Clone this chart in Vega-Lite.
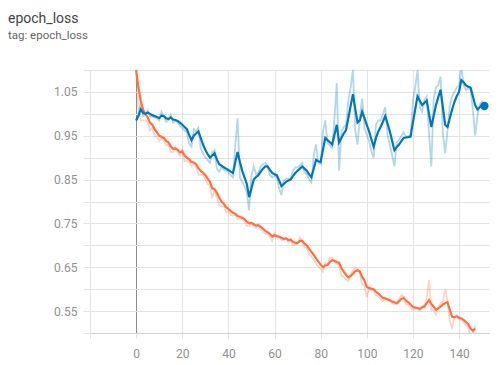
{
  "$schema": "https://vega.github.io/schema/vega-lite/v6.json",
  "width": 399,
  "height": 263,
  "autosize": "none",
  "padding": {"left": 90, "top": 70, "right": 10, "bottom": 32},
  "background": "white",
  "title": {
    "text": "epoch_loss",
    "subtitle": "tag: epoch_loss",
    "anchor": "start",
    "frame": "group",
    "dx": -82,
    "offset": 28,
    "font": "Roboto",
    "fontSize": 14,
    "fontWeight": "normal",
    "color": "#444444",
    "subtitleFont": "Roboto",
    "subtitleFontSize": 11.5,
    "subtitleColor": "#666666",
    "subtitlePadding": 4
  },
  "config": {
    "view": {"stroke": null},
    "axis": {
      "labelFont": "Roboto",
      "labelFontSize": 12,
      "labelColor": "#909090",
      "gridColor": "#e3e3e3",
      "tickColor": "#e3e3e3",
      "domainColor": "#d0d0d0",
      "title": null
    }
  },
  "data": {
    "values": [
      {"step":0,"t":1.100,"ts":1.100,"v":0.985,"vs":0.985},
      {"step":1,"t":1.010,"ts":1.060,"v":1.000,"vs":0.995},
      {"step":2,"t":0.985,"ts":1.030,"v":1.025,"vs":1.010},
      {"step":3,"t":0.985,"ts":1.010,"v":0.995,"vs":1.002},
      {"step":4,"t":0.985,"ts":1.000,"v":0.998,"vs":1.000},
      {"step":5,"t":0.980,"ts":0.992,"v":1.008,"vs":1.003},
      {"step":6,"t":0.962,"ts":0.980,"v":0.995,"vs":1.000},
      {"step":7,"t":0.968,"ts":0.975,"v":0.993,"vs":0.997},
      {"step":8,"t":0.950,"ts":0.965,"v":0.992,"vs":0.995},
      {"step":9,"t":0.948,"ts":0.958,"v":0.990,"vs":0.993},
      {"step":10,"t":0.938,"ts":0.950,"v":0.985,"vs":0.990},
      {"step":11,"t":0.945,"ts":0.948,"v":1.005,"vs":0.996},
      {"step":12,"t":0.940,"ts":0.945,"v":0.994,"vs":0.995},
      {"step":13,"t":0.928,"ts":0.938,"v":0.982,"vs":0.990},
      {"step":14,"t":0.930,"ts":0.935,"v":0.985,"vs":0.988},
      {"step":15,"t":0.912,"ts":0.926,"v":0.998,"vs":0.992},
      {"step":16,"t":0.912,"ts":0.920,"v":0.980,"vs":0.987},
      {"step":17,"t":0.924,"ts":0.921,"v":0.985,"vs":0.986},
      {"step":18,"t":0.912,"ts":0.918,"v":0.980,"vs":0.984},
      {"step":19,"t":0.904,"ts":0.912,"v":0.972,"vs":0.980},
      {"step":20,"t":0.918,"ts":0.915,"v":0.968,"vs":0.975},
      {"step":21,"t":0.892,"ts":0.905,"v":0.962,"vs":0.970},
      {"step":22,"t":0.893,"ts":0.900,"v":0.958,"vs":0.965},
      {"step":23,"t":0.890,"ts":0.896,"v":0.932,"vs":0.952},
      {"step":24,"t":0.880,"ts":0.890,"v":0.925,"vs":0.940},
      {"step":25,"t":0.887,"ts":0.889,"v":0.965,"vs":0.950},
      {"step":26,"t":0.880,"ts":0.885,"v":0.960,"vs":0.955},
      {"step":27,"t":0.862,"ts":0.876,"v":0.968,"vs":0.960},
      {"step":28,"t":0.860,"ts":0.870,"v":0.922,"vs":0.945},
      {"step":29,"t":0.860,"ts":0.866,"v":0.910,"vs":0.930},
      {"step":30,"t":0.850,"ts":0.860,"v":0.900,"vs":0.918},
      {"step":31,"t":0.840,"ts":0.852,"v":0.895,"vs":0.908},
      {"step":32,"t":0.835,"ts":0.845,"v":0.888,"vs":0.900},
      {"step":33,"t":0.808,"ts":0.830,"v":0.912,"vs":0.905},
      {"step":34,"t":0.826,"ts":0.828,"v":0.918,"vs":0.910},
      {"step":35,"t":0.808,"ts":0.820,"v":0.875,"vs":0.896},
      {"step":36,"t":0.792,"ts":0.809,"v":0.868,"vs":0.885},
      {"step":37,"t":0.788,"ts":0.800,"v":0.878,"vs":0.882},
      {"step":38,"t":0.790,"ts":0.795,"v":0.872,"vs":0.878},
      {"step":39,"t":0.775,"ts":0.787,"v":0.870,"vs":0.875},
      {"step":40,"t":0.778,"ts":0.783,"v":0.866,"vs":0.872},
      {"step":41,"t":0.770,"ts":0.778,"v":0.860,"vs":0.868},
      {"step":42,"t":0.768,"ts":0.774,"v":0.855,"vs":0.865},
      {"step":43,"t":0.770,"ts":0.772,"v":0.930,"vs":0.890},
      {"step":44,"t":0.760,"ts":0.767,"v":0.990,"vs":0.913},
      {"step":45,"t":0.762,"ts":0.765,"v":0.855,"vs":0.890},
      {"step":46,"t":0.760,"ts":0.763,"v":0.845,"vs":0.870},
      {"step":47,"t":0.755,"ts":0.760,"v":0.835,"vs":0.855},
      {"step":48,"t":0.745,"ts":0.754,"v":0.820,"vs":0.840},
      {"step":49,"t":0.744,"ts":0.750,"v":0.780,"vs":0.810},
      {"step":50,"t":0.752,"ts":0.751,"v":0.860,"vs":0.830},
      {"step":51,"t":0.744,"ts":0.748,"v":0.880,"vs":0.850},
      {"step":52,"t":0.740,"ts":0.745,"v":0.862,"vs":0.856},
      {"step":53,"t":0.748,"ts":0.746,"v":0.866,"vs":0.860},
      {"step":54,"t":0.736,"ts":0.742,"v":0.880,"vs":0.868},
      {"step":55,"t":0.732,"ts":0.738,"v":0.885,"vs":0.875},
      {"step":56,"t":0.726,"ts":0.733,"v":0.888,"vs":0.880},
      {"step":57,"t":0.726,"ts":0.730,"v":0.880,"vs":0.880},
      {"step":58,"t":0.720,"ts":0.726,"v":0.860,"vs":0.872},
      {"step":59,"t":0.710,"ts":0.720,"v":0.855,"vs":0.865},
      {"step":60,"t":0.728,"ts":0.723,"v":0.858,"vs":0.862},
      {"step":61,"t":0.718,"ts":0.721,"v":0.856,"vs":0.860},
      {"step":62,"t":0.718,"ts":0.720,"v":0.830,"vs":0.848},
      {"step":63,"t":0.712,"ts":0.717,"v":0.815,"vs":0.835},
      {"step":64,"t":0.712,"ts":0.715,"v":0.848,"vs":0.840},
      {"step":65,"t":0.718,"ts":0.716,"v":0.852,"vs":0.845},
      {"step":66,"t":0.706,"ts":0.712,"v":0.852,"vs":0.848},
      {"step":67,"t":0.714,"ts":0.713,"v":0.853,"vs":0.850},
      {"step":68,"t":0.700,"ts":0.708,"v":0.870,"vs":0.858},
      {"step":69,"t":0.702,"ts":0.706,"v":0.878,"vs":0.865},
      {"step":70,"t":0.703,"ts":0.705,"v":0.878,"vs":0.870},
      {"step":71,"t":0.718,"ts":0.710,"v":0.882,"vs":0.875},
      {"step":72,"t":0.710,"ts":0.710,"v":0.888,"vs":0.880},
      {"step":73,"t":0.695,"ts":0.704,"v":0.866,"vs":0.875},
      {"step":74,"t":0.694,"ts":0.700,"v":0.862,"vs":0.870},
      {"step":75,"t":0.680,"ts":0.692,"v":0.850,"vs":0.862},
      {"step":76,"t":0.674,"ts":0.685,"v":0.843,"vs":0.855},
      {"step":77,"t":0.668,"ts":0.678,"v":0.905,"vs":0.875},
      {"step":78,"t":0.658,"ts":0.670,"v":0.930,"vs":0.895},
      {"step":79,"t":0.652,"ts":0.663,"v":0.888,"vs":0.892},
      {"step":80,"t":0.646,"ts":0.656,"v":0.885,"vs":0.890},
      {"step":81,"t":0.640,"ts":0.650,"v":0.960,"vs":0.918},
      {"step":82,"t":0.660,"ts":0.654,"v":0.985,"vs":0.945},
      {"step":83,"t":0.656,"ts":0.655,"v":0.932,"vs":0.940},
      {"step":84,"t":0.672,"ts":0.662,"v":0.928,"vs":0.935},
      {"step":85,"t":0.672,"ts":0.666,"v":0.922,"vs":0.930},
      {"step":86,"t":0.664,"ts":0.665,"v":0.990,"vs":0.952},
      {"step":87,"t":0.657,"ts":0.662,"v":1.070,"vs":0.975},
      {"step":88,"t":0.656,"ts":0.660,"v":0.870,"vs":0.935},
      {"step":89,"t":0.630,"ts":0.648,"v":0.960,"vs":0.945},
      {"step":90,"t":0.628,"ts":0.640,"v":0.970,"vs":0.955},
      {"step":91,"t":0.622,"ts":0.633,"v":0.975,"vs":0.963},
      {"step":92,"t":0.618,"ts":0.627,"v":1.030,"vs":0.990},
      {"step":93,"t":0.635,"ts":0.630,"v":1.060,"vs":1.018},
      {"step":94,"t":0.642,"ts":0.635,"v":1.100,"vs":1.045},
      {"step":95,"t":0.650,"ts":0.641,"v":0.962,"vs":1.012},
      {"step":96,"t":0.646,"ts":0.643,"v":0.930,"vs":0.980},
      {"step":97,"t":0.635,"ts":0.640,"v":0.992,"vs":0.985},
      {"step":98,"t":0.610,"ts":0.628,"v":1.035,"vs":1.005},
      {"step":99,"t":0.608,"ts":0.620,"v":0.968,"vs":0.990},
      {"step":100,"t":0.582,"ts":0.605,"v":0.952,"vs":0.975},
      {"step":101,"t":0.600,"ts":0.603,"v":0.938,"vs":0.960},
      {"step":102,"t":0.598,"ts":0.601,"v":0.915,"vs":0.942},
      {"step":103,"t":0.598,"ts":0.600,"v":0.900,"vs":0.925},
      {"step":104,"t":0.585,"ts":0.594,"v":0.975,"vs":0.945},
      {"step":105,"t":0.584,"ts":0.590,"v":0.985,"vs":0.960},
      {"step":106,"t":0.577,"ts":0.585,"v":0.985,"vs":0.970},
      {"step":107,"t":0.572,"ts":0.580,"v":1.000,"vs":0.982},
      {"step":108,"t":0.578,"ts":0.579,"v":1.015,"vs":0.995},
      {"step":109,"t":0.574,"ts":0.577,"v":0.952,"vs":0.978},
      {"step":110,"t":0.572,"ts":0.575,"v":0.930,"vs":0.960},
      {"step":111,"t":0.567,"ts":0.572,"v":0.905,"vs":0.938},
      {"step":112,"t":0.566,"ts":0.570,"v":0.880,"vs":0.917},
      {"step":113,"t":0.565,"ts":0.568,"v":0.935,"vs":0.924},
      {"step":114,"t":0.578,"ts":0.572,"v":0.940,"vs":0.930},
      {"step":115,"t":0.587,"ts":0.578,"v":0.950,"vs":0.938},
      {"step":116,"t":0.583,"ts":0.580,"v":0.958,"vs":0.945},
      {"step":117,"t":0.565,"ts":0.574,"v":0.948,"vs":0.946},
      {"step":118,"t":0.564,"ts":0.570,"v":0.949,"vs":0.947},
      {"step":119,"t":0.558,"ts":0.565,"v":0.950,"vs":0.948},
      {"step":120,"t":0.552,"ts":0.560,"v":1.030,"vs":0.980},
      {"step":121,"t":0.555,"ts":0.558,"v":1.060,"vs":1.010},
      {"step":122,"t":0.556,"ts":0.557,"v":1.100,"vs":1.040},
      {"step":123,"t":0.551,"ts":0.555,"v":1.015,"vs":1.030},
      {"step":124,"t":0.562,"ts":0.558,"v":1.005,"vs":1.020},
      {"step":125,"t":0.563,"ts":0.560,"v":1.032,"vs":1.025},
      {"step":126,"t":0.580,"ts":0.568,"v":1.040,"vs":1.030},
      {"step":127,"t":0.620,"ts":0.575,"v":0.955,"vs":1.000},
      {"step":128,"t":0.552,"ts":0.566,"v":0.880,"vs":0.970},
      {"step":129,"t":0.552,"ts":0.560,"v":1.035,"vs":0.995},
      {"step":130,"t":0.542,"ts":0.553,"v":1.060,"vs":1.020},
      {"step":131,"t":0.560,"ts":0.556,"v":1.065,"vs":1.038},
      {"step":132,"t":0.566,"ts":0.560,"v":1.085,"vs":1.055},
      {"step":133,"t":0.572,"ts":0.565,"v":0.955,"vs":1.015},
      {"step":134,"t":0.600,"ts":0.568,"v":0.910,"vs":0.975},
      {"step":135,"t":0.573,"ts":0.570,"v":0.962,"vs":0.970},
      {"step":136,"t":0.528,"ts":0.553,"v":1.020,"vs":0.990},
      {"step":137,"t":0.512,"ts":0.537,"v":1.040,"vs":1.010},
      {"step":138,"t":0.535,"ts":0.536,"v":1.050,"vs":1.027},
      {"step":139,"t":0.541,"ts":0.538,"v":1.060,"vs":1.040},
      {"step":140,"t":0.531,"ts":0.535,"v":1.065,"vs":1.050},
      {"step":141,"t":0.530,"ts":0.533,"v":1.110,"vs":1.077},
      {"step":142,"t":0.525,"ts":0.530,"v":1.065,"vs":1.072},
      {"step":143,"t":0.518,"ts":0.525,"v":1.055,"vs":1.065},
      {"step":144,"t":0.512,"ts":0.520,"v":1.058,"vs":1.062},
      {"step":145,"t":0.495,"ts":0.510,"v":1.056,"vs":1.060},
      {"step":146,"t":0.498,"ts":0.505,"v":1.010,"vs":1.040},
      {"step":147,"t":0.518,"ts":0.510,"v":0.950,"vs":1.020},
      {"step":148,"v":0.995,"vs":1.010},
      {"step":149,"v":1.022,"vs":1.015},
      {"step":150,"v":1.028,"vs":1.020},
      {"step":151,"v":1.015,"vs":1.018}
    ]
  },
  "encoding": {
    "x": {
      "field": "step",
      "type": "quantitative",
      "scale": {"domain": [-20, 153], "nice": false, "zero": false},
      "axis": {
        "values": [-20, 0, 20, 40, 60, 80, 100, 120, 140],
        "labelExpr": "datum.value < 0 ? '' : datum.label",
        "grid": true,
        "gridColor": {"condition": {"test": "datum.value === 0", "value": "#8c8c8c"}, "value": "#e3e3e3"},
        "tickSize": 5,
        "labelPadding": 10,
        "domain": true
      }
    },
    "y": {
      "type": "quantitative",
      "scale": {"domain": [0.5, 1.1], "nice": false, "zero": false},
      "axis": {
        "values": [0.5, 0.55, 0.6, 0.65, 0.7, 0.75, 0.8, 0.85, 0.9, 0.95, 1.0, 1.05, 1.1],
        "labelExpr": "round(datum.value * 100) % 10 === 5 ? format(datum.value, '.2f') : ''",
        "grid": true,
        "tickSize": 7,
        "labelPadding": 6,
        "domain": false
      }
    }
  },
  "layer": [
    {
      "transform": [
        {"fold": ["t", "v"], "as": ["series", "loss"]},
        {"filter": "isValid(datum.loss)"}
      ],
      "mark": {"type": "line", "strokeWidth": 1.8, "opacity": 0.3, "clip": true},
      "encoding": {
        "y": {"field": "loss"},
        "color": {
          "field": "series",
          "type": "nominal",
          "scale": {"domain": ["t", "v"], "range": ["#ff7043", "#0077bb"]},
          "legend": null
        }
      }
    },
    {
      "transform": [
        {"fold": ["ts", "vs"], "as": ["series", "loss"]},
        {"filter": "isValid(datum.loss)"}
      ],
      "mark": {"type": "line", "strokeWidth": 2.2, "clip": true},
      "encoding": {
        "y": {"field": "loss"},
        "color": {
          "field": "series",
          "type": "nominal",
          "scale": {"domain": ["ts", "vs"], "range": ["#ff7043", "#0077bb"]},
          "legend": null
        }
      }
    },
    {
      "transform": [{"filter": "datum.step === 151"}],
      "mark": {"type": "point", "filled": true, "size": 70, "opacity": 1, "color": "#0077bb"},
      "encoding": {"y": {"field": "vs"}}
    }
  ]
}
